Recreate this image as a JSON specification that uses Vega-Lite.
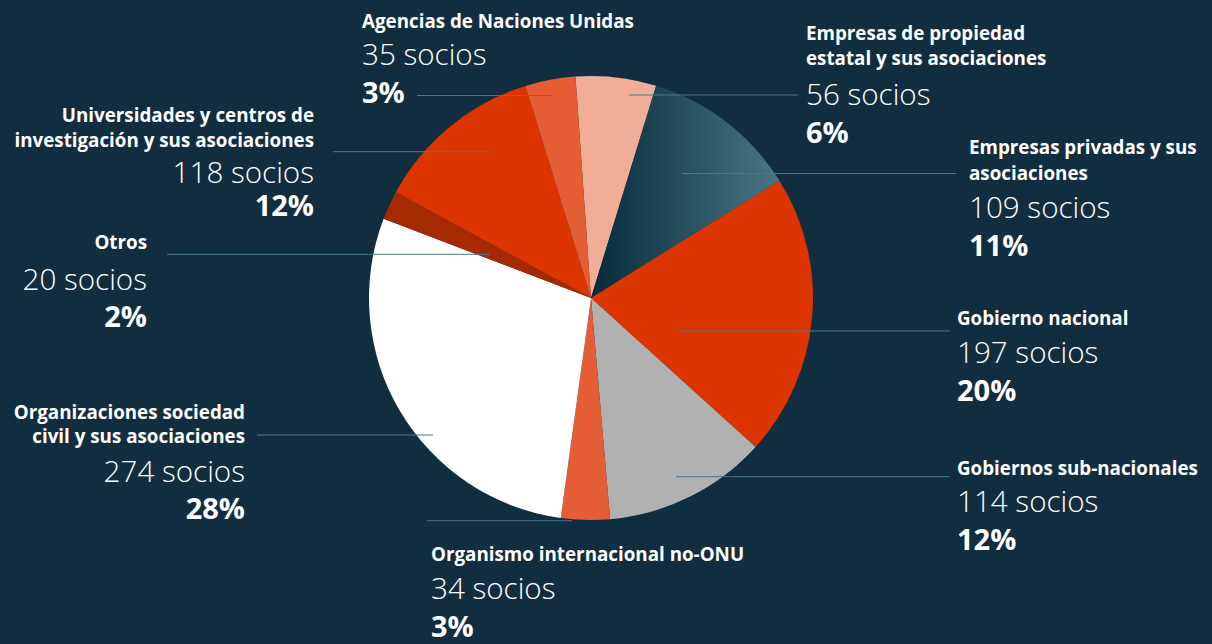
{
  "$schema": "https://vega.github.io/schema/vega-lite/v6.json",
  "width": 1212,
  "height": 644,
  "autosize": {"type": "fit", "contains": "padding"},
  "padding": 0,
  "background": "#112e40",
  "config": {"view": {"stroke": null}},
  "datasets": {
    "sectores": [
      {"orden": 1, "sector": "Empresas de propiedad estatal y sus asociaciones", "socios": 56},
      {"orden": 2, "sector": "Empresas privadas y sus asociaciones", "socios": 109},
      {"orden": 3, "sector": "Gobierno nacional", "socios": 197},
      {"orden": 4, "sector": "Gobiernos sub-nacionales", "socios": 114},
      {"orden": 5, "sector": "Organismo internacional no-ONU", "socios": 34},
      {"orden": 6, "sector": "Organizaciones sociedad civil y sus asociaciones", "socios": 274},
      {"orden": 7, "sector": "Otros", "socios": 20},
      {"orden": 8, "sector": "Universidades y centros de investigación y sus asociaciones", "socios": 118},
      {"orden": 9, "sector": "Agencias de Naciones Unidas", "socios": 35}
    ],
    "lineas": [
      {"sector": "Agencias de Naciones Unidas", "x": 417, "x2": 553, "y": 95.5},
      {"sector": "Empresas de propiedad estatal y sus asociaciones", "x": 629, "x2": 798, "y": 95},
      {"sector": "Empresas privadas y sus asociaciones", "x": 682, "x2": 956, "y": 173.5},
      {"sector": "Universidades y centros de investigación y sus asociaciones", "x": 333, "x2": 492, "y": 151.7},
      {"sector": "Otros", "x": 167, "x2": 490, "y": 254.3},
      {"sector": "Organizaciones sociedad civil y sus asociaciones", "x": 257, "x2": 433, "y": 435},
      {"sector": "Organismo internacional no-ONU", "x": 427, "x2": 572, "y": 520.7},
      {"sector": "Gobierno nacional", "x": 677, "x2": 950, "y": 331},
      {"sector": "Gobiernos sub-nacionales", "x": 676, "x2": 950, "y": 476.7}
    ],
    "textos": [
      {"tipo": "nombre", "lado": "der", "x": 362, "y": 28, "texto": "Agencias de Naciones Unidas"},
      {"tipo": "socios", "lado": "der", "x": 362, "y": 65, "texto": "35 socios"},
      {"tipo": "pct", "lado": "der", "x": 362, "y": 103, "texto": "3%"},
      {"tipo": "nombre", "lado": "der", "x": 806, "y": 40, "texto": "Empresas de propiedad"},
      {"tipo": "nombre", "lado": "der", "x": 806, "y": 65, "texto": "estatal y sus asociaciones"},
      {"tipo": "socios", "lado": "der", "x": 806, "y": 105, "texto": "56 socios"},
      {"tipo": "pct", "lado": "der", "x": 806, "y": 143, "texto": "6%"},
      {"tipo": "nombre", "lado": "der", "x": 969, "y": 154, "texto": "Empresas privadas y sus"},
      {"tipo": "nombre", "lado": "der", "x": 969, "y": 180, "texto": "asociaciones"},
      {"tipo": "socios", "lado": "der", "x": 969, "y": 218, "texto": "109 socios"},
      {"tipo": "pct", "lado": "der", "x": 969, "y": 256, "texto": "11%"},
      {"tipo": "nombre", "lado": "der", "x": 957, "y": 325, "texto": "Gobierno nacional"},
      {"tipo": "socios", "lado": "der", "x": 957, "y": 363, "texto": "197 socios"},
      {"tipo": "pct", "lado": "der", "x": 957, "y": 401, "texto": "20%"},
      {"tipo": "nombre", "lado": "der", "x": 957, "y": 475, "texto": "Gobiernos sub-nacionales"},
      {"tipo": "socios", "lado": "der", "x": 957, "y": 512, "texto": "114 socios"},
      {"tipo": "pct", "lado": "der", "x": 957, "y": 550, "texto": "12%"},
      {"tipo": "nombre", "lado": "der", "x": 431, "y": 561, "texto": "Organismo internacional no-ONU"},
      {"tipo": "socios", "lado": "der", "x": 431, "y": 599, "texto": "34 socios"},
      {"tipo": "pct", "lado": "der", "x": 431, "y": 637, "texto": "3%"},
      {"tipo": "nombre", "lado": "izq", "x": 245, "y": 419, "texto": "Organizaciones sociedad"},
      {"tipo": "nombre", "lado": "izq", "x": 245, "y": 443, "texto": "civil y sus asociaciones"},
      {"tipo": "socios", "lado": "izq", "x": 245, "y": 482, "texto": "274 socios"},
      {"tipo": "pct", "lado": "izq", "x": 245, "y": 519, "texto": "28%"},
      {"tipo": "nombre", "lado": "izq", "x": 147, "y": 249, "texto": "Otros"},
      {"tipo": "socios", "lado": "izq", "x": 147, "y": 290, "texto": "20 socios"},
      {"tipo": "pct", "lado": "izq", "x": 147, "y": 327, "texto": "2%"},
      {"tipo": "nombre", "lado": "izq", "x": 314, "y": 122, "texto": "Universidades y centros de"},
      {"tipo": "nombre", "lado": "izq", "x": 314, "y": 146.5, "texto": "investigación y sus asociaciones"},
      {"tipo": "socios", "lado": "izq", "x": 314, "y": 183, "texto": "118 socios"},
      {"tipo": "pct", "lado": "izq", "x": 314, "y": 216, "texto": "12%"}
    ]
  },
  "layer": [
    {
      "data": {"name": "sectores"},
      "mark": {"type": "arc", "outerRadius": 222},
      "encoding": {
        "theta": {"field": "socios", "type": "quantitative", "stack": true, "scale": {"range": [-0.07, 6.2132]}},
        "order": {"field": "orden", "type": "quantitative"},
        "x": {"datum": 591, "type": "quantitative", "scale": {"domain": [0, 1212], "nice": false, "zero": false}, "axis": null},
        "y": {"datum": 298, "type": "quantitative", "scale": {"domain": [0, 644], "nice": false, "zero": false, "reverse": true}, "axis": null},
        "color": {
          "condition": {
            "test": "datum.sector === 'Empresas privadas y sus asociaciones'",
            "value": {"gradient": "linear", "x1": 0, "y1": 0, "x2": 1, "y2": 0, "stops": [{"offset": 0, "color": "#062a3c"}, {"offset": 1, "color": "#4a7683"}]}
          },
          "field": "sector",
          "type": "nominal",
          "scale": {
            "domain": ["Empresas de propiedad estatal y sus asociaciones", "Empresas privadas y sus asociaciones", "Gobierno nacional", "Gobiernos sub-nacionales", "Organismo internacional no-ONU", "Organizaciones sociedad civil y sus asociaciones", "Otros", "Universidades y centros de investigación y sus asociaciones", "Agencias de Naciones Unidas"],
            "range": ["#f1ae96", "#2b5565", "#dc3500", "#b1b1b1", "#e45d35", "#ffffff", "#a62a00", "#dc3500", "#e45d35"]
          },
          "legend": null
        }
      }
    },
    {
      "data": {"name": "lineas"},
      "mark": {"type": "rule", "stroke": "#4a7888", "strokeWidth": 1},
      "encoding": {
        "x": {"field": "x", "type": "quantitative", "scale": {"domain": [0, 1212], "nice": false, "zero": false}, "axis": null},
        "x2": {"field": "x2"},
        "y": {"field": "y", "type": "quantitative", "scale": {"domain": [0, 644], "nice": false, "zero": false, "reverse": true}, "axis": null}
      }
    },
    {
      "data": {"name": "textos"},
      "transform": [{"filter": "datum.tipo === 'nombre' && datum.lado === 'der'"}],
      "mark": {"type": "text", "align": "left", "baseline": "alphabetic", "font": "Open Sans", "fontWeight": "bold", "fontSize": 18.8, "color": "#ffffff"},
      "encoding": {
        "x": {"field": "x", "type": "quantitative", "scale": {"domain": [0, 1212], "nice": false, "zero": false}, "axis": null},
        "y": {"field": "y", "type": "quantitative", "scale": {"domain": [0, 644], "nice": false, "zero": false, "reverse": true}, "axis": null},
        "text": {"field": "texto"}
      }
    },
    {
      "data": {"name": "textos"},
      "transform": [{"filter": "datum.tipo === 'nombre' && datum.lado === 'izq'"}],
      "mark": {"type": "text", "align": "right", "baseline": "alphabetic", "font": "Open Sans", "fontWeight": "bold", "fontSize": 18.8, "color": "#ffffff"},
      "encoding": {
        "x": {"field": "x", "type": "quantitative", "scale": {"domain": [0, 1212], "nice": false, "zero": false}, "axis": null},
        "y": {"field": "y", "type": "quantitative", "scale": {"domain": [0, 644], "nice": false, "zero": false, "reverse": true}, "axis": null},
        "text": {"field": "texto"}
      }
    },
    {
      "data": {"name": "textos"},
      "transform": [{"filter": "datum.tipo === 'socios' && datum.lado === 'der'"}],
      "mark": {"type": "text", "align": "left", "baseline": "alphabetic", "font": "Open Sans", "fontWeight": 300, "fontSize": 29.6, "color": "#ffffff"},
      "encoding": {
        "x": {"field": "x", "type": "quantitative", "scale": {"domain": [0, 1212], "nice": false, "zero": false}, "axis": null},
        "y": {"field": "y", "type": "quantitative", "scale": {"domain": [0, 644], "nice": false, "zero": false, "reverse": true}, "axis": null},
        "text": {"field": "texto"}
      }
    },
    {
      "data": {"name": "textos"},
      "transform": [{"filter": "datum.tipo === 'socios' && datum.lado === 'izq'"}],
      "mark": {"type": "text", "align": "right", "baseline": "alphabetic", "font": "Open Sans", "fontWeight": 300, "fontSize": 29.6, "color": "#ffffff"},
      "encoding": {
        "x": {"field": "x", "type": "quantitative", "scale": {"domain": [0, 1212], "nice": false, "zero": false}, "axis": null},
        "y": {"field": "y", "type": "quantitative", "scale": {"domain": [0, 644], "nice": false, "zero": false, "reverse": true}, "axis": null},
        "text": {"field": "texto"}
      }
    },
    {
      "data": {"name": "textos"},
      "transform": [{"filter": "datum.tipo === 'pct' && datum.lado === 'der'"}],
      "mark": {"type": "text", "align": "left", "baseline": "alphabetic", "font": "Open Sans", "fontWeight": "bold", "fontSize": 29, "color": "#ffffff"},
      "encoding": {
        "x": {"field": "x", "type": "quantitative", "scale": {"domain": [0, 1212], "nice": false, "zero": false}, "axis": null},
        "y": {"field": "y", "type": "quantitative", "scale": {"domain": [0, 644], "nice": false, "zero": false, "reverse": true}, "axis": null},
        "text": {"field": "texto"}
      }
    },
    {
      "data": {"name": "textos"},
      "transform": [{"filter": "datum.tipo === 'pct' && datum.lado === 'izq'"}],
      "mark": {"type": "text", "align": "right", "baseline": "alphabetic", "font": "Open Sans", "fontWeight": "bold", "fontSize": 29, "color": "#ffffff"},
      "encoding": {
        "x": {"field": "x", "type": "quantitative", "scale": {"domain": [0, 1212], "nice": false, "zero": false}, "axis": null},
        "y": {"field": "y", "type": "quantitative", "scale": {"domain": [0, 644], "nice": false, "zero": false, "reverse": true}, "axis": null},
        "text": {"field": "texto"}
      }
    }
  ]
}
